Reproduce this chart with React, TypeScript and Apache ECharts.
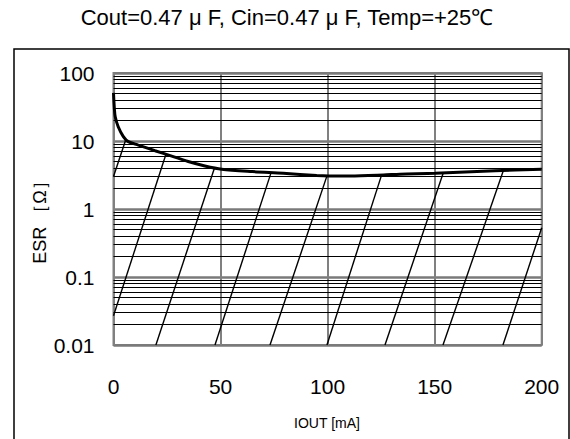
import React, { useEffect, useRef } from "react";
import * as echarts from "echarts";

// ---- data ----
const titleText = "Cout=0.47 μ F, Cin=0.47 μ F, Temp=+25℃";
const xName = "IOUT [mA]";
const yName = "ESR ［Ω］";

const xTicks = [0, 50, 100, 150, 200];
const yTickLabels = ["0.01", "0.1", "1", "10", "100"];

// ESR boundary curve (IOUT mA, ESR ohm)
const curveX = [0, 0.4, 0.8, 2.2, 4.6, 6.9, 11.6, 19.4, 27.2, 34.9, 42.7, 50.5, 64.8, 79.3, 94.9, 100.7, 110.5, 126, 133.8, 150.2, 178.2, 200];
const curveY = [51, 30, 22.7, 16.2, 11.6, 9.8, 8.7, 7.2, 6.0, 5.0, 4.3, 3.85, 3.55, 3.35, 3.1, 3.06, 3.06, 3.16, 3.25, 3.35, 3.65, 3.84];

// hatch lines of the stable region: start and end points
const hatchX0 = [0, 0, 19.8, 47.4, 73.1, 99.7, 126.8, 153.9, 181.9];
const hatchY0 = [3.0, 0.027, 0.01, 0.01, 0.01, 0.01, 0.01, 0.01, 0.01];
const hatchX1 = [5.8, 24.5, 47.2, 73.6, 99.7, 125.2, 154.0, 182.1, 200];
const hatchY1 = [10.6, 6.4, 4.05, 3.43, 3.07, 3.15, 3.38, 3.67, 0.53];

// minor log grid lines
const decades = [0.01, 0.1, 1, 10];
const minorMultipliers = [2, 3, 4, 5, 6, 7, 8, 9];

const FONT = "'Liberation Sans', Arial, sans-serif";

export default function App() {
  const ref = useRef<HTMLDivElement>(null);

  useEffect(() => {
    if (!ref.current) return;
    const chart = echarts.init(ref.current, null, { renderer: "svg" });

    const minorValues: number[] = [];
    decades.forEach((d) => minorMultipliers.forEach((m) => minorValues.push(+(d * m).toPrecision(6))));

    const hatchSeries = hatchX0.map((x0, i) => ({
      type: "line",
      name: "hatch" + i,
      data: [
        [x0, hatchY0[i]],
        [hatchX1[i], hatchY1[i]],
      ],
      showSymbol: false,
      symbol: "none",
      silent: true,
      z: 3,
      lineStyle: { color: "#000", width: 1.4 },
    }));

    chart.setOption({
      animation: false,
      grid: {
        left: 113.5,
        top: 73,
        width: 428.2,
        height: 272,
        show: true,
        borderColor: "#808080",
        borderWidth: 2,
        backgroundColor: "#fff",
      },
      xAxis: {
        type: "value",
        min: 0,
        max: 200,
        interval: 50,
        axisLine: { show: false },
        axisTick: { show: false },
        axisLabel: {
          fontSize: 21,
          color: "#000",
          fontFamily: FONT,
          margin: 31,
          formatter: (v: number) => (xTicks.includes(v) ? String(v) : ""),
        },
        splitLine: { show: true, lineStyle: { color: "#808080", width: 2 } },
      },
      yAxis: {
        type: "log",
        logBase: 10,
        min: 0.01,
        max: 100,
        splitNumber: 4,
        axisLine: { show: false },
        axisTick: { show: false },
        axisLabel: {
          fontSize: 21,
          color: "#000",
          fontFamily: FONT,
          margin: 19,
          formatter: (v: number) => {
            const n = Math.round(Math.log10(v));
            return yTickLabels[n + 2] ?? "";
          },
        },
        splitLine: { show: true, lineStyle: { color: "#7a7a7a", width: 2.5 } },
      },
      series: [
        {
          type: "line",
          name: "grid",
          data: [[0, 1]],
          symbol: "none",
          showSymbol: false,
          silent: true,
          lineStyle: { opacity: 0 },
          z: 1,
          markLine: {
            silent: true,
            symbol: ["none", "none"],
            label: { show: false },
            lineStyle: { color: "#000", width: 1, type: "solid" },
            data: minorValues.map((v) => ({ yAxis: v })),
          },
        },
        ...hatchSeries,
        {
          type: "line",
          name: "ESR",
          data: curveX.map((x, i) => [x, curveY[i]]),
          showSymbol: false,
          symbol: "none",
          smooth: 0.3,
          silent: true,
          z: 4,
          lineStyle: { color: "#000", width: 3 },
        },
      ],
      graphic: [
        {
          type: "rect",
          silent: true,
          shape: { x: 14, y: 49, width: 555, height: 420 },
          style: { fill: "none", stroke: "#000", lineWidth: 1.5 },
        },
        {
          type: "text",
          x: 287,
          y: 17,
          style: {
            text: titleText,
            fontSize: 22,
            fontFamily: FONT,
            fill: "#000",
            align: "center",
            verticalAlign: "middle",
          },
        },
        {
          type: "text",
          x: 327,
          y: 423,
          style: {
            text: xName,
            fontSize: 14,
            fontFamily: FONT,
            fill: "#000",
            align: "center",
            verticalAlign: "middle",
          },
        },
        {
          type: "text",
          x: 40,
          y: 218,
          rotation: Math.PI / 2,
          style: {
            text: yName,
            fontSize: 18,
            fontFamily: FONT,
            fill: "#000",
            align: "center",
            verticalAlign: "middle",
          },
        },
      ],
    });

    return () => chart.dispose();
  }, []);

  return (
    <div
      ref={ref}
      style={{ position: "fixed", left: 0, top: 0, width: 570, height: 439, background: "#fff" }}
    />
  );
}
